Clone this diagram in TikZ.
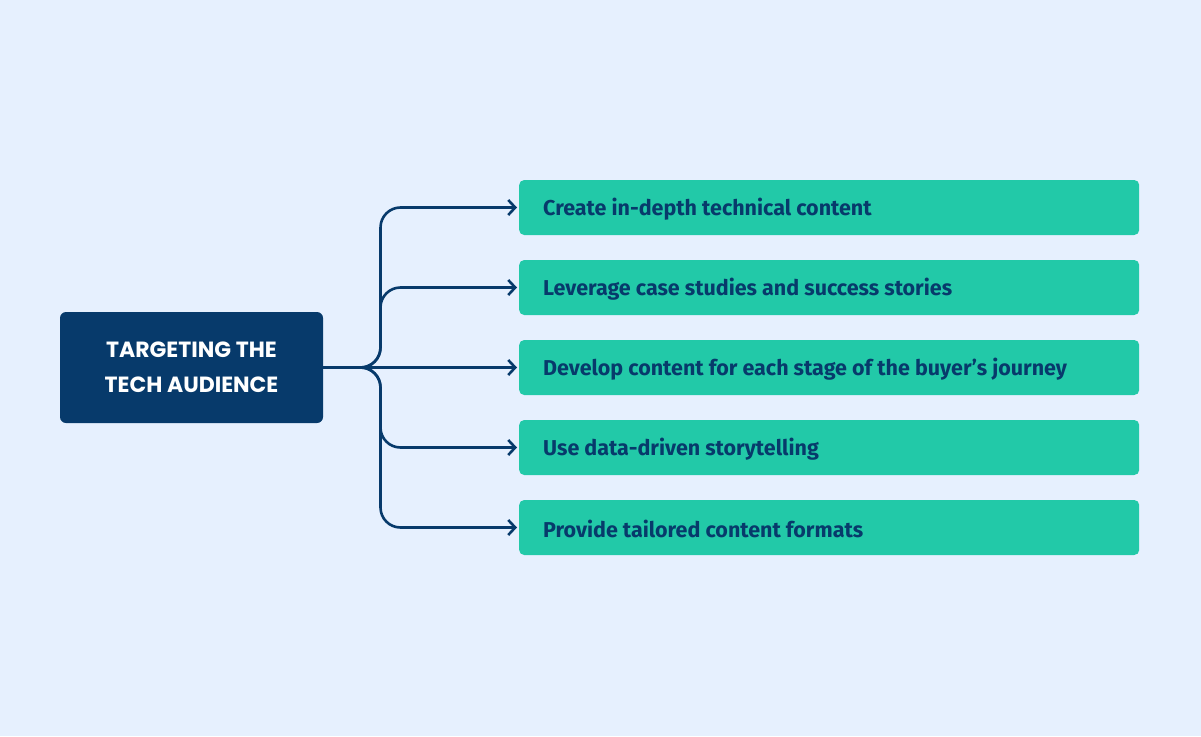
\documentclass[tikz,border=0pt]{standalone}
\usepackage{fontspec}
\setmainfont{Fira Sans}
\newfontfamily\popfont{Poppins}
\usetikzlibrary{arrows.meta}
\definecolor{bg}{HTML}{E6F0FE}
\definecolor{navy}{HTML}{073A6B}
\definecolor{mint}{HTML}{22C9A8}
\tikzset{
  rootbox/.style={fill=navy, rounded corners=6pt, minimum width=263pt, minimum height=111pt, inner sep=0pt, align=center, text=white, font=\popfont\bfseries\fontsize{22}{35}\selectfont},
  itembox/.style={fill=mint, rounded corners=5pt, minimum width=620pt, minimum height=55pt, inner sep=0pt, anchor=west},
  itemtext/.style={anchor=west, text=navy, inner sep=0pt, font=\bfseries\fontsize{21.5}{24}\selectfont},
  conn/.style={draw=navy, line width=2.6pt, rounded corners=20pt, -{Straight Barb[length=7pt,width=15pt,line width=2.6pt]}},
}
\begin{document}
\begin{tikzpicture}[x=1pt,y=-1pt]
\fill[bg] (0,0) rectangle (1201,736);
\useasboundingbox (0,0) rectangle (1201,736);
\node[rootbox] (root) at (191.5,367.5) {TARGETING THE\\TECH AUDIENCE};
\foreach \i/\y/\t in {1/207.5/Create in-depth technical content,
                      2/287.5/Leverage case studies and success stories,
                      3/367.5/Develop content for each stage of the buyer’s journey,
                      4/447.5/Use data-driven storytelling,
                      5/527.5/Provide tailored content formats}{
  \node[itembox] (b\i) at (519,\y) {};
  \node[itemtext] (t\i) at (543,\y+1.5) {\t};
}
\coordinate (j) at (380.5,367.5);
\draw[conn] (root.east) -- (j) |- ([xshift=-2pt]b1.west);
\draw[conn] (root.east) -- (j) |- ([xshift=-2pt]b2.west);
\draw[conn] (root.east) -- ([xshift=-2pt]b3.west);
\draw[conn] (root.east) -- (j) |- ([xshift=-2pt]b4.west);
\draw[conn] (root.east) -- (j) |- ([xshift=-2pt]b5.west);
\end{tikzpicture}
\end{document}
